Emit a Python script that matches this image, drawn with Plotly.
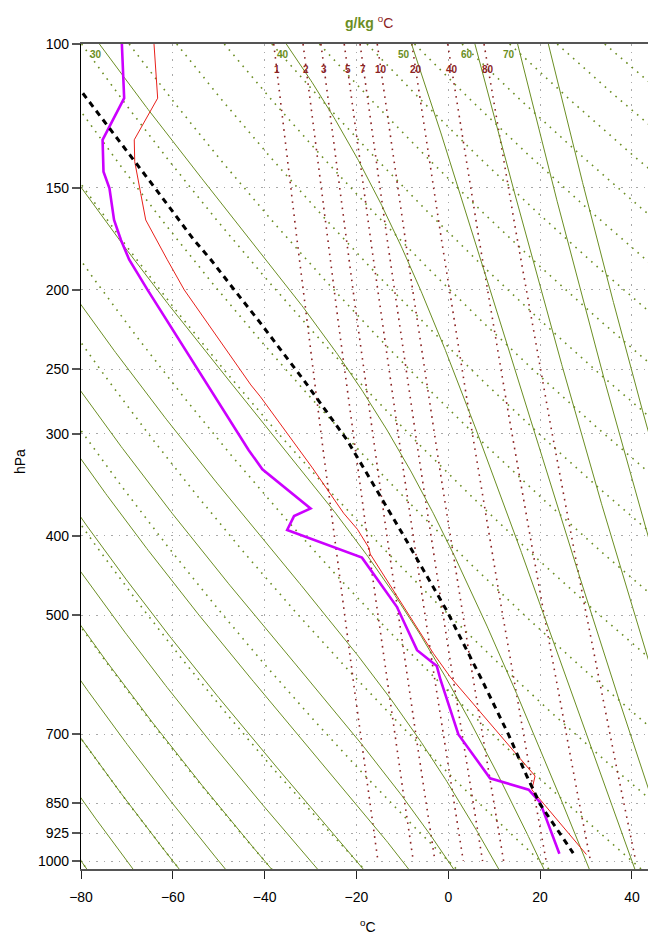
import numpy as np
import plotly.graph_objects as go

# ---------------- data ----------------
temp_p = [100, 116.5, 131, 139.3, 152.3, 164.2, 183.7, 200, 261.4, 270.3, 330.2, 353.5,
          375.2, 392.6, 413.6, 421, 557.6, 595, 787, 818, 982]
temp_t = [-64.1, -63.3, -68.4, -68.3, -67.0, -65.9, -61.2, -57.5, -43.0, -40.9, -29.6, -26.0,
          -22.8, -19.8, -17.3, -17.0, -3.2, 0.4, 18.9, 18.2, 30.1]

dew_p = [100, 116.5, 131, 143.3, 150.2, 164.2, 173.7, 183.7, 200, 314, 331.5, 370.3, 378.3,
         393.4, 425.3, 488.5, 552, 577.3, 600, 700, 792, 818, 847.7, 980]
dew_t = [-71.1, -70.6, -75.3, -75.1, -73.8, -72.8, -71.3, -69.5, -65.5, -43.5, -40.5, -30.0, -33.6,
         -35.1, -18.8, -11.2, -6.8, -2.5, -1.7, 2.2, 9.1, 17.5, 20.0, 24.2]

parcel_p = [114.9, 127.4, 139.3, 150, 173.7, 183.7, 200, 219.6, 257.8, 305.6, 400, 494.2,
            600, 700, 787, 852, 978]
parcel_t = [-79.6, -73.5, -68.4, -63.9, -55.4, -51.7, -46.6, -40.9, -31.5, -22.0, -9.7, -0.3,
            7.3, 13.1, 17.1, 20.0, 27.2]

p_ticks = [100, 150, 200, 250, 300, 400, 500, 700, 850, 925, 1000]
t_ticks = [-80, -60, -40, -20, 0, 20, 40]
dry_theta = list(range(-80, 361, 20))              # deg C at 1000 hPa, dotted olive
moist_thetaw = list(range(-90, 41, 10))            # deg C at 1000 hPa, solid olive
moist_top_t = [-8.0, 5.8, 15.1, 21.8]              # warm solid olive lines: deg C at 100 hPa
moist_labels = [30, 40, 50, 60, 70]
mix_ratios = [1, 2, 3, 5, 7, 10, 20, 40, 80]       # g/kg, dotted dark red

# ---------------- colours / style ----------------
OLIVE = "#6B8E23"
DRED = "#8B2323"
GRID = "#A8A8A8"
FONT = "Liberation Sans, Arial, Helvetica, sans-serif"

P_TOP, P_BOT = 100.0, 1022.8
X_MIN, X_MAX = -80, 43.5

# ---------------- thermodynamic background ----------------
Rd, cpd, Lv, eps = 287.04, 1005.7, 2.501e6, 0.622

def es(Tk):
    Tc = Tk - 273.15
    if Tc < 0:
        return 6.112 * np.exp(22.46 * Tc / (Tc + 272.62))
    return 6.112 * np.exp(17.67 * Tc / (Tc + 243.5))

def dT_dlnp(T, p):
    rs = eps * es(T) / p
    return (Rd * T + Lv * rs) / (cpd + Lv ** 2 * rs * eps / (Rd * T ** 2))

def integrate(T0, p0, p1, n):
    T = T0 + 273.15
    lnp = np.log(p0)
    h = (np.log(p1) - lnp) / n
    ps, ts = [p0], [T0]
    for _ in range(n):
        k1 = dT_dlnp(T, np.exp(lnp))
        k2 = dT_dlnp(T + 0.5 * h * k1, np.exp(lnp + 0.5 * h))
        k3 = dT_dlnp(T + 0.5 * h * k2, np.exp(lnp + 0.5 * h))
        k4 = dT_dlnp(T + h * k3, np.exp(lnp + h))
        T += h / 6 * (k1 + 2 * k2 + 2 * k3 + k4)
        lnp += h
        ps.append(np.exp(lnp)); ts.append(T - 273.15)
    return np.array(ps), np.array(ts)

def moist_from_bottom(tw):
    up_p, up_t = integrate(tw, 1000.0, P_TOP, 400)
    dn_p, dn_t = integrate(tw, 1000.0, 1030.0, 20)
    return np.concatenate([up_p[::-1], dn_p[1:]]), np.concatenate([up_t[::-1], dn_t[1:]])

def moist_from_top(tt):
    return integrate(tt, P_TOP, 1030.0, 400)

fig = go.Figure()

pp = np.logspace(np.log10(P_TOP), np.log10(1030), 200)
for th in dry_theta:
    tt = (th + 273.15) * (pp / 1000.0) ** 0.2857 - 273.15
    fig.add_trace(go.Scatter(x=tt, y=pp, mode="lines",
                             line=dict(color=OLIVE, width=1.6, dash="1.6px,5.5px")))

pm = np.logspace(np.log10(P_TOP), np.log10(1000), 150)
mix_lab = []
for w in mix_ratios:
    e = w * pm / (622.0 + w)
    L = np.log(e / 6.112)
    tt = 272.62 * L / (22.46 - L)
    fig.add_trace(go.Scatter(x=tt, y=pm, mode="lines",
                             line=dict(color=DRED, width=1.6, dash="1.6px,5px")))
    e1 = w * 107.3 / (622.0 + w)
    L1 = np.log(e1 / 6.112)
    mix_lab.append((w, 272.62 * L1 / (22.46 - L1)))

moist_lines = [moist_from_bottom(tw) for tw in moist_thetaw] + [moist_from_top(t) for t in moist_top_t]
label_for = {30: 12, 40: 13, 50: 14, 60: 15, 70: 16}   # index into moist_lines
for P, T in moist_lines:
    fig.add_trace(go.Scatter(x=T, y=P, mode="lines", line=dict(color=OLIVE, width=1)))
moist_lab = []
for lab, idx in label_for.items():
    P, T = moist_lines[idx]
    order = np.argsort(P)
    moist_lab.append((lab, float(np.interp(np.log(103.1), np.log(P[order]), T[order]))))

# ---------------- sounding ----------------
fig.add_trace(go.Scatter(x=temp_t, y=temp_p, mode="lines", line=dict(color="#E8201A", width=1)))
fig.add_trace(go.Scatter(x=dew_t, y=dew_p, mode="lines", line=dict(color="#CC00FF", width=2.6)))
fig.add_trace(go.Scatter(x=parcel_t, y=parcel_p, mode="lines",
                         line=dict(color="black", width=3, dash="6px,5px")))

ann = []
for tw, t in moist_lab:
    ann.append(dict(x=t - 2.4, y=np.log10(103.1), xref="x", yref="y", text=f"<b>{tw}</b>",
                    xanchor="center", yanchor="middle",
                    showarrow=False, font=dict(color=OLIVE, size=10, family=FONT)))
for w, t in mix_lab:
    ann.append(dict(x=t, y=np.log10(107.3), xref="x", yref="y", text=f"<b>{w}</b>",
                    xanchor="center", yanchor="middle",
                    showarrow=False, font=dict(color=DRED, size=10, family=FONT)))

W, H = 648, 937
L_M, T_M, B_M = 81, 44, 68
PW, PH = W - L_M, H - T_M - B_M

def px(xp):
    return (xp - L_M) / PW

def py(yp):
    return (H - B_M - yp) / PH

ann.append(dict(x=px(369), y=py(22), xref="paper", yref="paper", showarrow=False,
                xanchor="center", yanchor="middle",
                text=f"<b><span style='color:{OLIVE}'>g/kg</span></b> "
                     f"<span style='color:{DRED}'><sup>o</sup>C</span>",
                font=dict(size=14, family=FONT)))
ann.append(dict(x=px(20), y=py(462), xref="paper", yref="paper", showarrow=False,
                xanchor="center", yanchor="middle",
                text="hPa", textangle=-90, font=dict(size=14, family=FONT, color="black")))
ann.append(dict(x=px(368), y=py(926), xref="paper", yref="paper", showarrow=False,
                xanchor="center", yanchor="middle",
                text="<sup>o</sup>C", font=dict(size=14, family=FONT, color="black")))

fig.update_layout(
    width=W, height=H,
    margin=dict(l=L_M, r=0, t=T_M, b=B_M, pad=0),
    paper_bgcolor="white", plot_bgcolor="white",
    showlegend=False, hovermode=False,
    font=dict(family=FONT, size=14, color="black"),
    annotations=ann,
    xaxis=dict(range=[X_MIN, X_MAX], autorange=False, tickvals=t_ticks,
               ticktext=[str(v).replace("-", "\u2212") for v in t_ticks],
               ticks="outside", ticklen=8, tickwidth=1.2, tickcolor="#222",
               ticklabelstandoff=6,
               showline=True, linecolor="#555", linewidth=2, mirror=True,
               showgrid=True, gridcolor=GRID, gridwidth=1, griddash="1.5px,6px",
               zeroline=False, tickfont=dict(size=14, family=FONT)),
    yaxis=dict(type="log", range=[np.log10(P_BOT), np.log10(P_TOP)], autorange=False,
               tickvals=p_ticks, ticktext=[str(v) for v in p_ticks],
               ticks="outside", ticklen=8, tickwidth=1.5, tickcolor="#555",
               showline=True, linecolor="black", linewidth=1.2,
               showgrid=True, gridcolor=GRID, gridwidth=1, griddash="1.5px,6px",
               zeroline=False, tickfont=dict(size=14, family=FONT)),
)

fig.write_html("out.html")
